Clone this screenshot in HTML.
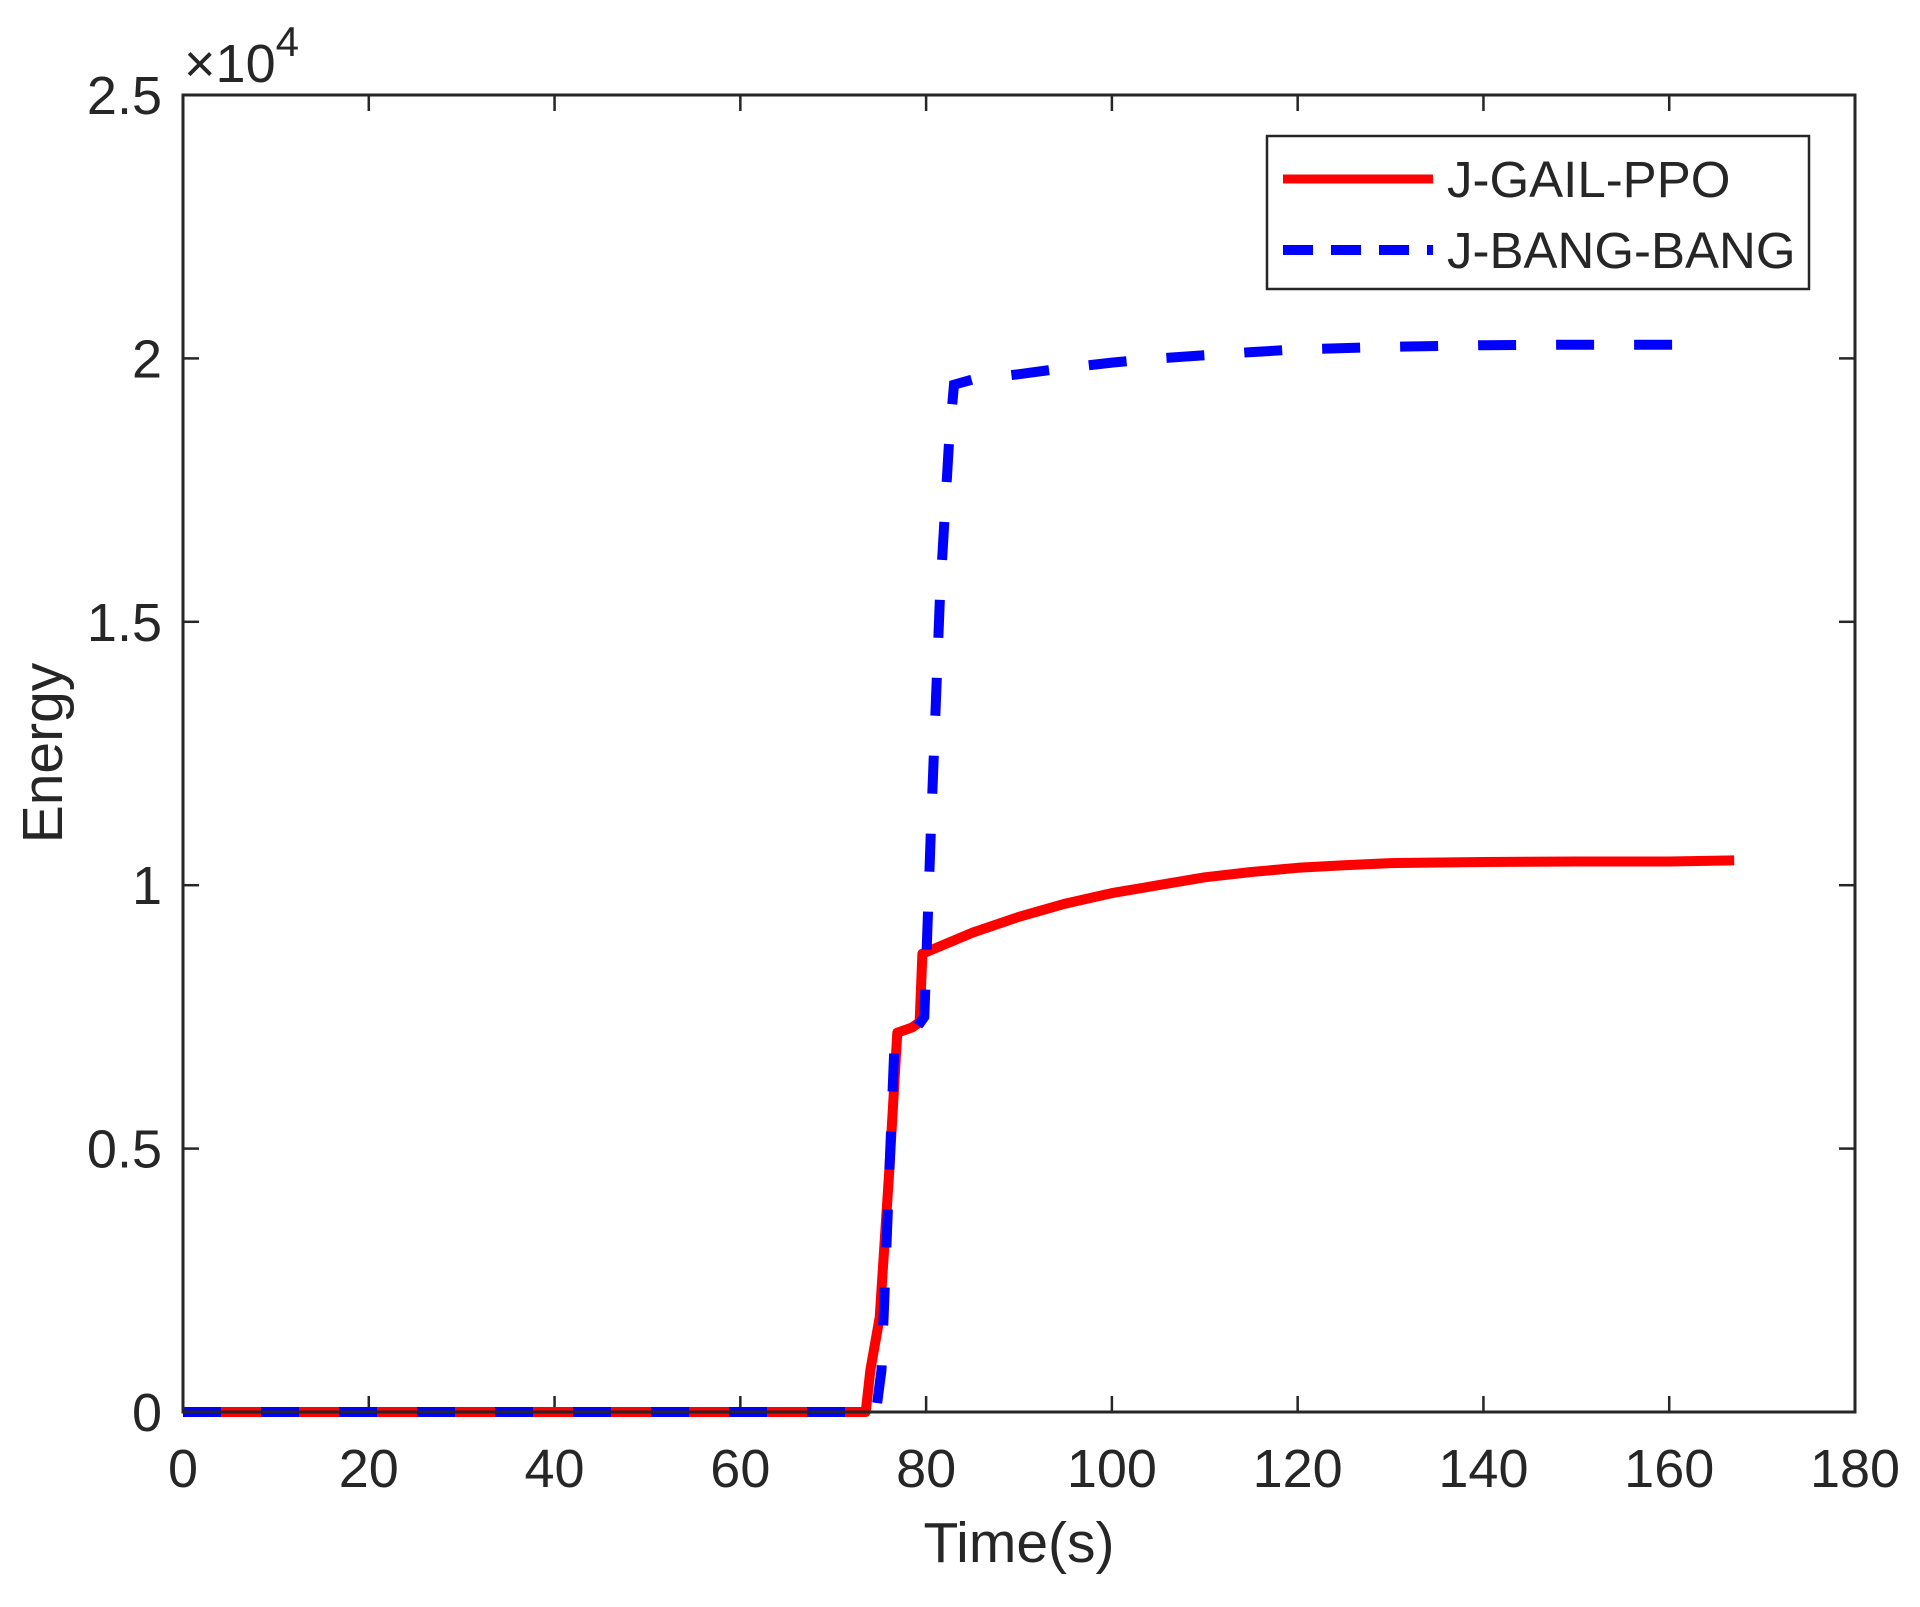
<!DOCTYPE html>
<html><head><meta charset="utf-8"><style>
html,body{margin:0;padding:0;background:#fff;}
svg text{font-family:"Liberation Sans",Arial,sans-serif;fill:#262626;}
</style></head><body>
<svg id="chart" width="1920" height="1602" viewBox="0 0 1920 1602" xmlns="http://www.w3.org/2000/svg">
<rect x="0" y="0" width="1920" height="1602" fill="#fff"/>
<g id="ticks"></g>
<g id="series"></g>
<rect x="183" y="95" width="1672" height="1317" fill="none" stroke="#262626" stroke-width="3"/>
<text x="184" y="82" font-size="54">×10<tspan font-size="42" dy="-26">4</tspan></text>
<text x="1019" y="1562" font-size="57" text-anchor="middle">Time(s)</text>
<text transform="translate(62,753) rotate(-90)" font-size="57" text-anchor="middle">Energy</text>
<g>
<rect x="1267" y="136" width="542" height="153" fill="#fff" stroke="#262626" stroke-width="2.5"/>
<line x1="1283" y1="179" x2="1433" y2="179" stroke="#ff0000" stroke-width="9"/>
<text x="1447" y="197" font-size="51">J-GAIL-PPO</text>
<line x1="1283" y1="250" x2="1433" y2="250" stroke="#0000ff" stroke-width="10" stroke-dasharray="30 18"/>
<text x="1447" y="268" font-size="51">J-BANG-BANG</text>
</g>
</svg>
<script>
const xTicks = [0,20,40,60,80,100,120,140,160,180];
const yTicks = [0,5000,10000,15000,20000,25000];
const yTickLabels = ["0","0.5","1","1.5","2","2.5"];
const redT = [0,73.5,74,75,76,76.9,78.5,79.3,79.6,85,90,95,100,105,110,115,120,125,130,140,150,160,167];
const redE = [0,0,800,1800,4500,7200,7300,7400,8700,9100,9400,9650,9850,10000,10150,10250,10330,10380,10420,10440,10450,10450,10470];
const blueT = [0,74.6,75.2,76.6,79,79.8,80.5,81.5,82.5,83,85,90,95,100,105,110,115,120,130,140,150,163];
const blueE = [0,0,800,7000,7300,7500,11000,15500,18500,19500,19600,19700,19820,19920,20000,20060,20120,20170,20220,20250,20260,20260];
const X0=183,X1=1855,Y0=1412,Y1=95;
function xs(v){return X0+(v-0)/(180-0)*(X1-X0);}
function ys(v){return Y0-(v-0)/(25000-0)*(Y0-Y1);}
const NS="http://www.w3.org/2000/svg";
const tg=document.getElementById('ticks');
xTicks.forEach(t=>{
  const x=xs(t);
  [[Y0,Y0-16],[Y1,Y1+16]].forEach(p=>{
    const l=document.createElementNS(NS,'line');
    l.setAttribute('x1',x);l.setAttribute('x2',x);l.setAttribute('y1',p[0]);l.setAttribute('y2',p[1]);
    l.setAttribute('stroke','#262626');l.setAttribute('stroke-width','2.5');
    
    
    tg.appendChild(l);
  });
  const tx=document.createElementNS(NS,'text');
  tx.setAttribute('x',x);tx.setAttribute('y',1487);tx.setAttribute('font-size','54');tx.setAttribute('text-anchor','middle');
  tx.textContent=String(t);
  
  
  tg.appendChild(tx);
});
yTicks.forEach((t,i)=>{
  const y=ys(t);
  [[X0,X0+16],[X1,X1-16]].forEach(p=>{
    const l=document.createElementNS(NS,'line');
    l.setAttribute('x1',p[0]);l.setAttribute('x2',p[1]);l.setAttribute('y1',y);l.setAttribute('y2',y);
    l.setAttribute('stroke','#262626');l.setAttribute('stroke-width','2.5');
    
    
    tg.appendChild(l);
  });
  const tx=document.createElementNS(NS,'text');
  tx.setAttribute('x',162);tx.setAttribute('y',y+19);tx.setAttribute('font-size','54');tx.setAttribute('text-anchor','end');
  tx.textContent=yTickLabels[i];
  
  
  tg.appendChild(tx);
});
const sg=document.getElementById('series');
function pts(T,E){return T.map((t,i)=>xs(t).toFixed(1)+','+ys(E[i]).toFixed(1)).join(' ');}
const red=document.createElementNS(NS,'polyline');
red.setAttribute('points',pts(redT,redE));
red.setAttribute('fill','none');red.setAttribute('stroke','#ff0000');red.setAttribute('stroke-width','10');red.setAttribute('stroke-linejoin','round');


sg.appendChild(red);
const blue=document.createElementNS(NS,'polyline');
blue.setAttribute('points',pts(blueT,blueE));
blue.setAttribute('fill','none');blue.setAttribute('stroke','#0000ff');blue.setAttribute('stroke-width','10');blue.setAttribute('stroke-dasharray','38 40');


sg.appendChild(blue);
</script>
</body></html>
